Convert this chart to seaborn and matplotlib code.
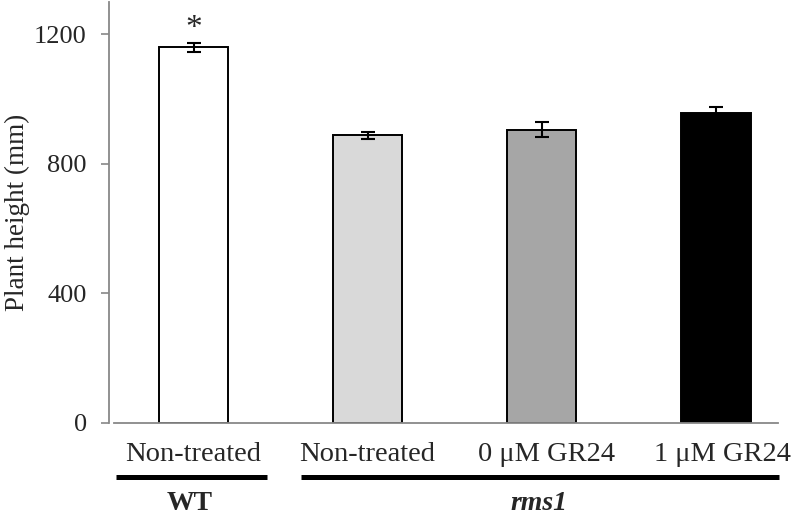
import matplotlib
matplotlib.use("Agg")
import matplotlib.pyplot as plt
import matplotlib.transforms as mtransforms
import seaborn as sns
import pandas as pd

categories = ["WT Non-treated", "rms1 Non-treated", "rms1 0 µM GR24", "rms1 1 µM GR24"]
tick_labels = ["Non-treated", "Non-treated", "0 \u03bcM GR24", "1 \u03bcM GR24"]
heights = [1160, 888, 906, 956]
errors = [13, 11, 22, 20]
colors = ["#ffffff", "#d9d9d9", "#a6a6a6", "#000000"]
yticks = [0, 400, 800, 1200]

sns.set_style("white")
plt.rcParams["font.family"] = ["Liberation Serif", "DejaVu Serif"]

fig = plt.figure(figsize=(7.96, 5.17), dpi=100)
ax = fig.add_axes([109 / 796, (517 - 422.7) / 517, 669 / 796, 420.7 / 517])

df = pd.DataFrame({"cat": categories, "h": heights})
sns.barplot(data=df, x="cat", y="h", hue="cat", palette=colors, legend=False,
            width=0.40, edgecolor="black", linewidth=1.4, ax=ax)
ax.errorbar(range(len(heights)), heights, yerr=errors, fmt="none",
            ecolor="black", elinewidth=1.5, capsize=5, capthick=1.5)

ax.text(0, heights[0] + errors[0] + 45, "*", ha="center", va="center", fontsize=24)

ax.set_ylim(0, 1300)
ax.set_xlim(-0.486, 3.358)
ax.set_yticks(yticks)
ax.set_yticklabels([str(v) for v in yticks], fontsize=19)
ax.set_xticks(range(len(tick_labels)))
ax.set_xticklabels(tick_labels, fontsize=20.5)
ax.set_xlabel("")
ax.set_ylabel("Plant height (mm)", fontsize=19.5, labelpad=3)

for s in ["top", "right"]:
    ax.spines[s].set_visible(False)
for s in ["left", "bottom"]:
    ax.spines[s].set_color("#888888")
    ax.spines[s].set_linewidth(1.3)
ax.spines["bottom"].set_bounds(-0.46, 3.358)

ax.tick_params(axis="y", length=6, width=1.2, color="#888888", direction="out", left=True, pad=10)
ax.tick_params(axis="x", length=0, pad=14)

shifts = [0, 0, 5, 7]
for lab, dx in zip(ax.get_xticklabels(), shifts):
    lab.set_transform(lab.get_transform() + mtransforms.ScaledTranslation(dx / 100, 0, fig.dpi_scale_trans))

trans = mtransforms.blended_transform_factory(ax.transData, ax.transAxes)
ax.plot([-0.446, 0.419], [-0.130, -0.130], color="black", lw=3.6, transform=trans, clip_on=False,
        solid_capstyle="butt")
ax.plot([0.620, 3.363], [-0.130, -0.130], color="black", lw=3.6, transform=trans, clip_on=False,
        solid_capstyle="butt")
ax.text(-0.02, -0.207, "WT", transform=trans, ha="center", va="baseline", fontsize=20, fontweight="bold")
ax.text(1.987, -0.207, "rms1", transform=trans, ha="center", va="baseline", fontsize=20,
        fontweight="bold", fontstyle="italic")

fig.savefig("out.png", dpi=100)
